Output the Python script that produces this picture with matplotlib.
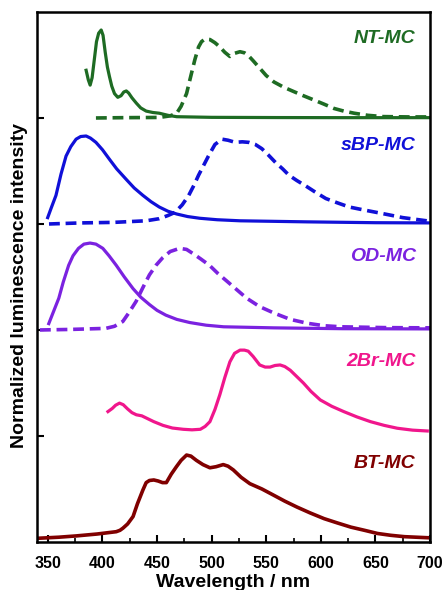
import matplotlib
matplotlib.use("Agg")
import matplotlib.pyplot as plt
from matplotlib.ticker import MultipleLocator

plt.rcParams['font.family'] = ['Liberation Sans', 'DejaVu Sans']

# ---- data (wavelength nm, normalized intensity; each offset by panel index) ----
nt_sol_x = [385, 387, 388.7, 390.5, 392.5, 394.5, 396.5, 398.8, 400.5, 402.5, 404.5, 406.4, 408.5, 411, 414, 417, 419.5, 421.8, 424, 427, 431, 435, 440, 446, 452, 460, 468, 500, 560, 620, 700]
nt_sol_y = [0.45, 0.36, 0.31, 0.38, 0.55, 0.72, 0.80, 0.83, 0.78, 0.62, 0.48, 0.39, 0.30, 0.23, 0.195, 0.21, 0.245, 0.255, 0.235, 0.19, 0.14, 0.095, 0.065, 0.052, 0.045, 0.025, 0.012, 0.006, 0.004, 0.003, 0.003]
nt_dash_x = [394, 420, 452, 462, 468, 472, 477, 481, 484.6, 488, 490.7, 494, 498.4, 503, 507.5, 512, 516.7, 521, 525.9, 530, 533.5, 538, 544, 550, 557, 566, 575, 584, 593.6, 603, 612, 621, 630.5, 643, 657, 680, 700]
nt_dash_y = [0.0, 0.003, 0.005, 0.02, 0.045, 0.11, 0.23, 0.40, 0.55, 0.67, 0.72, 0.745, 0.74, 0.71, 0.67, 0.62, 0.58, 0.61, 0.625, 0.615, 0.59, 0.54, 0.47, 0.40, 0.34, 0.29, 0.25, 0.21, 0.17, 0.13, 0.09, 0.065, 0.045, 0.025, 0.013, 0.01, 0.01]

sbp_sol_x = [349.8, 353, 357.4, 362, 366.6, 371, 375.8, 380, 385, 389, 394, 400, 406.4, 413, 421.8, 429, 437, 444.5, 452, 460, 468, 478, 489, 505, 526, 587, 650, 700]
sbp_sol_y = [0.06, 0.15, 0.27, 0.47, 0.64, 0.73, 0.80, 0.825, 0.83, 0.81, 0.77, 0.70, 0.61, 0.52, 0.42, 0.34, 0.27, 0.21, 0.16, 0.12, 0.094, 0.07, 0.054, 0.04, 0.03, 0.02, 0.012, 0.01]
sbp_dash_x = [351, 380, 410, 440, 452, 460, 466.5, 473, 479, 484, 488, 493, 497, 503, 509.5, 515, 521.6, 528, 534, 540, 546, 552, 558.5, 565, 570.8, 578, 586, 595, 604.6, 615, 626, 638, 650.6, 663, 675, 686, 697]
sbp_dash_y = [0.0, 0.01, 0.015, 0.03, 0.05, 0.08, 0.11, 0.18, 0.27, 0.37, 0.46, 0.56, 0.64, 0.75, 0.80, 0.79, 0.77, 0.775, 0.77, 0.75, 0.71, 0.65, 0.58, 0.52, 0.46, 0.41, 0.36, 0.30, 0.24, 0.20, 0.16, 0.135, 0.11, 0.085, 0.06, 0.045, 0.03]

od_sol_x = [350.8, 355, 360, 364, 369, 373, 378, 383, 388.6, 394, 400.3, 406, 412.6, 420, 428, 435, 443, 450, 458, 468, 480, 495, 511, 557, 620, 700]
od_sol_y = [0.06, 0.17, 0.30, 0.45, 0.61, 0.70, 0.77, 0.81, 0.82, 0.81, 0.77, 0.70, 0.61, 0.50, 0.39, 0.31, 0.24, 0.185, 0.14, 0.10, 0.07, 0.045, 0.03, 0.02, 0.012, 0.01]
od_dash_x = [342.7, 370, 403, 411, 418.6, 424, 430.8, 437, 443, 449, 455, 462, 470.6, 477, 483, 490, 498, 506, 514, 523, 532, 544, 557, 572, 587.8, 603, 618.5, 660, 700]
od_dash_y = [0.0, 0.005, 0.015, 0.035, 0.08, 0.16, 0.27, 0.40, 0.52, 0.61, 0.68, 0.74, 0.77, 0.76, 0.72, 0.67, 0.61, 0.53, 0.46, 0.38, 0.30, 0.22, 0.16, 0.10, 0.063, 0.04, 0.03, 0.022, 0.02]

br_x = [405, 409, 412, 415.6, 419, 423, 427, 431, 436, 440, 447, 455.4, 464, 474, 482, 489.6, 494, 498.4, 503, 507.5, 512, 516.7, 521, 526, 530, 533.5, 538, 544, 549, 553.5, 558, 562.7, 567, 572, 578, 584, 591, 599.5, 610, 621, 633, 645.5, 658, 670, 684, 697.5]
br_y = [0.23, 0.26, 0.29, 0.31, 0.295, 0.255, 0.22, 0.20, 0.19, 0.17, 0.135, 0.10, 0.075, 0.063, 0.058, 0.063, 0.09, 0.135, 0.25, 0.39, 0.55, 0.70, 0.78, 0.81, 0.81, 0.80, 0.75, 0.67, 0.65, 0.65, 0.665, 0.67, 0.655, 0.62, 0.56, 0.50, 0.42, 0.34, 0.28, 0.23, 0.18, 0.135, 0.10, 0.073, 0.055, 0.047]

bt_x = [341, 360, 375.8, 395, 412.6, 416, 418.7, 423, 428, 432, 437, 440, 443, 447, 451, 455, 458.5, 463, 467.7, 472, 477, 481, 486, 492, 498.4, 504, 510.6, 515, 519.8, 527, 535, 546, 557, 567, 578, 590, 603, 615, 627.5, 640, 652, 664, 676.6, 698]
bt_y = [0.035, 0.045, 0.057, 0.075, 0.097, 0.11, 0.13, 0.17, 0.24, 0.36, 0.49, 0.56, 0.58, 0.585, 0.575, 0.56, 0.56, 0.64, 0.71, 0.77, 0.82, 0.81, 0.77, 0.73, 0.70, 0.71, 0.73, 0.715, 0.68, 0.61, 0.55, 0.50, 0.44, 0.385, 0.33, 0.275, 0.22, 0.18, 0.14, 0.11, 0.08, 0.063, 0.05, 0.04]

names = ['NT-MC', 'sBP-MC', 'OD-MC', '2Br-MC', 'BT-MC']
offsets = [4, 3, 2, 1, 0]
colors = ['#1e6b23', '#1010d8', '#7b22e0', '#f0168c', '#800000']
label_y = [4.75, 3.74, 2.69, 1.70, 0.745]

fig = plt.figure(figsize=(4.44, 5.90), dpi=100)
ax = fig.add_axes([0.0833, 0.0814, 0.8852, 0.8983])

lw = 2.3
dash = (0, (3, 1.6))
ax.plot(nt_sol_x, [v + offsets[0] for v in nt_sol_y], color=colors[0], lw=lw)
ax.plot(nt_dash_x, [v + offsets[0] for v in nt_dash_y], color=colors[0], lw=lw + 0.3, ls=dash)
ax.plot(sbp_sol_x, [v + offsets[1] for v in sbp_sol_y], color=colors[1], lw=lw)
ax.plot(sbp_dash_x, [v + offsets[1] for v in sbp_dash_y], color=colors[1], lw=lw + 0.3, ls=dash)
ax.plot(od_sol_x, [v + offsets[2] for v in od_sol_y], color=colors[2], lw=lw)
ax.plot(od_dash_x, [v + offsets[2] for v in od_dash_y], color=colors[2], lw=lw + 0.3, ls=dash)
ax.plot(br_x, [v + offsets[3] for v in br_y], color=colors[3], lw=lw)
ax.plot(bt_x, [v + offsets[4] for v in bt_y], color=colors[4], lw=lw + 0.3)

for n, c, yl in zip(names, colors, label_y):
    ax.text(687, yl, n, color=c, fontsize=14, fontweight='bold', fontstyle='italic',
            ha='right', va='center')

ax.set_xlim(340, 700)
ax.set_ylim(0, 5)
ax.xaxis.set_major_locator(MultipleLocator(50))
ax.xaxis.set_minor_locator(MultipleLocator(25))
ax.set_yticks([1, 2, 3, 4])
ax.set_yticklabels([])
ax.tick_params(axis='x', which='major', direction='in', length=5, width=1.5, labelsize=11.5, pad=10)
ax.tick_params(axis='x', which='minor', direction='in', length=3, width=1.2)
ax.tick_params(axis='y', which='major', direction='in', length=5, width=1.5)
for lab in ax.get_xticklabels():
    lab.set_fontweight('bold')
for s in ax.spines.values():
    s.set_linewidth(1.8)

ax.set_xlabel('Wavelength / nm', fontsize=14, fontweight='bold', labelpad=2)
ax.set_ylabel('Normalized luminescence intensity', fontsize=14, fontweight='bold')
ax.yaxis.set_label_coords(-0.022, 0.483)

fig.savefig('out.png', dpi=100)
